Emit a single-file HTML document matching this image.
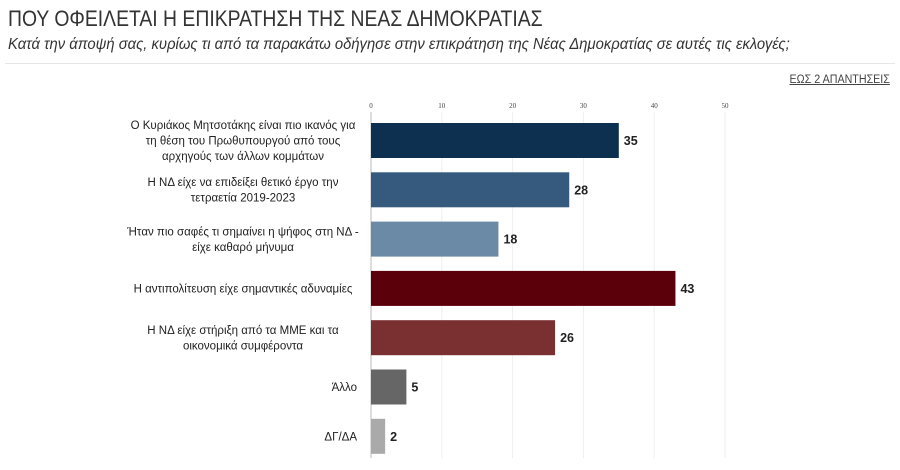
<!DOCTYPE html>
<html><head><meta charset="utf-8"><style>
body{margin:0;width:900px;height:470px;background:#fff;overflow:hidden;font-family:"Liberation Sans",sans-serif;color:#222}
#title{position:absolute;left:8px;top:6px;font-size:22px;color:#333;transform:scaleX(0.88);transform-origin:0 0;white-space:nowrap}
#sub{position:absolute;left:8px;top:36px;font-size:16px;font-style:italic;color:#333;transform:scaleX(0.925);transform-origin:0 0;white-space:nowrap}
#sep{position:absolute;left:5px;top:63px;width:890px;height:1px;background:#e6e6e6}
#note{position:absolute;right:10px;top:74px;font-size:11.5px;color:#444;text-decoration:underline;transform:scaleX(0.93);transform-origin:100% 0}
svg{position:absolute;left:0;top:0}
</style></head><body>
<div id="title">ΠΟΥ ΟΦΕΙΛΕΤΑΙ Η ΕΠΙΚΡΑΤΗΣΗ ΤΗΣ ΝΕΑΣ ΔΗΜΟΚΡΑΤΙΑΣ</div>
<div id="sub">Κατά την άποψή σας, κυρίως τι από τα παρακάτω οδήγησε στην επικράτηση της Νέας Δημοκρατίας σε αυτές τις εκλογές;</div>
<div id="sep"></div>
<div id="note">ΕΩΣ 2 ΑΠΑΝΤΗΣΕΙΣ</div>
<svg id="chart" width="900" height="470"></svg>
<script>
const categories=[
["Ο Κυριάκος Μητσοτάκης είναι πιο ικανός για","τη θέση του Πρωθυπουργού από τους","αρχηγούς των άλλων κομμάτων"],
["Η ΝΔ είχε να επιδείξει θετικό έργο την","τετραετία 2019-2023"],
["Ήταν πιο σαφές τι σημαίνει η ψήφος στη ΝΔ -","είχε καθαρό μήνυμα"],
["Η αντιπολίτευση είχε σημαντικές αδυναμίες"],
["Η ΝΔ είχε στήριξη από τα ΜΜΕ και τα","οικονομικά συμφέροντα"],
["Άλλο"],
["ΔΓ/ΔΑ"]];
const values=[35,28,18,43,26,5,2];
const colors=["#0d3050","#355a7e","#6b8aa6","#5b000a","#7a2f31","#666666","#aaaaaa"];
const ticks=[0,10,20,30,40,50];
const ns="http://www.w3.org/2000/svg";
const svg=document.getElementById('chart');
const x0=371,x1=725,vmax=50;
const xs=v=>x0+(x1-x0)*v/vmax;
const yTop=123,step=49.3,bh=35;
const ys=i=>yTop+i*step;
function el(t,a){const e=document.createElementNS(ns,t);for(const k in a)e.setAttribute(k,a[k]);svg.appendChild(e);return e;}
ticks.forEach(t=>{
 const g=el('line',{x1:xs(t),x2:xs(t),y1:112,y2:458,stroke:t===0?'#bbb':'#eee','stroke-width':1});
 
 
 const tx=el('text',{x:xs(t),y:108,'font-size':7,'text-anchor':'middle',fill:'#444','font-family':'Liberation Serif,serif'});
 tx.textContent=t;
 
 
});
values.forEach((v,i)=>{
 const y=ys(i);
 const r=el('rect',{x:x0,y:y,width:xs(v)-x0,height:bh,fill:colors[i]});
 
 
 const vt=el('text',{x:xs(v)+5,y:y+bh/2+4.5,'font-size':12.5,'font-weight':'bold',fill:'#222'});
 vt.textContent=v;
 
 
 const lines=categories[i];
 const lh=15.5, start=y+bh/2-(lines.length-1)*lh/2+4;
 const short=lines.length===1&&lines[0].length<10;
 const t=el('text',{'font-size':11.5,'text-anchor':short?'end':'middle',fill:'#222'});
 
 
 const cx=short?357:243;
 lines.forEach((s,j)=>{const sp=document.createElementNS(ns,'tspan');sp.setAttribute('x',cx);sp.setAttribute('y',start+j*lh);sp.textContent=s;t.appendChild(sp);});
});
</script>
</body></html>
